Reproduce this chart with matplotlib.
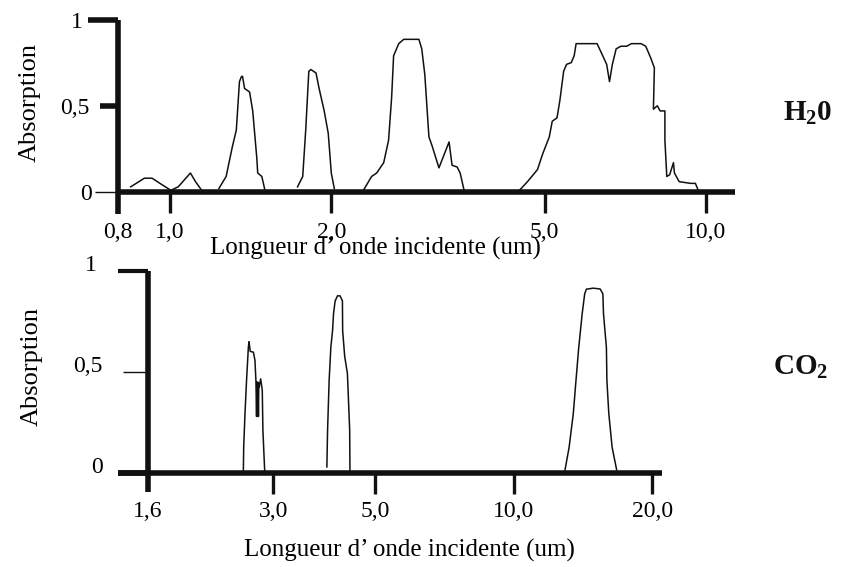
import numpy as np
import matplotlib
matplotlib.use("Agg")
import matplotlib.pyplot as plt
from matplotlib.ticker import NullLocator

plt.rcParams['font.family'] = ['Liberation Serif', 'DejaVu Serif']
plt.rcParams['mathtext.fontset'] = 'custom'
plt.rcParams['mathtext.rm'] = 'Liberation Serif'
plt.rcParams['mathtext.bf'] = 'Liberation Serif:bold'

# ---------------- data (wavelength in µm, absorption 0..1) ----------------
h2o_bands_wavelength = [
    [0.845, 0.896, 0.926, 0.969, 1.004, 1.036, 1.092, 1.116, 1.146],
    [1.234, 1.273, 1.307, 1.330, 1.348, 1.360, 1.366, 1.378, 1.408, 1.427,
     1.452, 1.458, 1.484, 1.504],
    [1.730, 1.769, 1.792, 1.808, 1.816, 1.832, 1.873, 1.898, 1.940, 1.974,
     2.000, 2.026],
    [2.296, 2.378, 2.430, 2.505, 2.558, 2.592, 2.614, 2.672, 2.730, 2.914,
     2.950, 2.989, 3.042, 3.082, 3.176, 3.317, 3.360, 3.434, 3.479, 3.538],
    [4.489, 4.646, 4.850, 4.958, 5.103, 5.167, 5.274, 5.339, 5.427, 5.495,
     5.608, 5.678, 5.725, 5.796, 6.265, 6.396, 6.528, 6.608, 6.690, 6.800,
     6.941, 7.114, 7.261, 7.566, 7.722, 7.882, 8.013, 7.980, 8.114, 8.214,
     8.384, 8.384, 8.452, 8.557, 8.698, 8.734, 8.914, 9.363, 9.557, 9.676],
]
h2o_bands_absorption = [
    [0.03, 0.08, 0.08, 0.04, 0.01, 0.03, 0.11, 0.06, 0.01],
    [0.02, 0.09, 0.26, 0.36, 0.64, 0.67, 0.67, 0.60, 0.58, 0.47,
     0.20, 0.11, 0.09, 0.01],
    [0.03, 0.09, 0.36, 0.59, 0.70, 0.71, 0.69, 0.60, 0.47, 0.34,
     0.11, 0.02],
    [0.01, 0.09, 0.11, 0.17, 0.30, 0.55, 0.79, 0.86, 0.885, 0.885,
     0.83, 0.68, 0.32, 0.27, 0.14, 0.29, 0.155, 0.145, 0.11, 0.01],
    [0.01, 0.06, 0.13, 0.22, 0.32, 0.41, 0.43, 0.53, 0.70, 0.74,
     0.75, 0.79, 0.86, 0.86, 0.86, 0.80, 0.74, 0.64, 0.74, 0.83,
     0.845, 0.845, 0.86, 0.86, 0.845, 0.78, 0.72, 0.48, 0.50, 0.47,
     0.47, 0.30, 0.09, 0.10, 0.17, 0.11, 0.06, 0.05, 0.05, 0.01],
]

co2_bands_wavelength = [
    [2.580, 2.585, 2.602, 2.622, 2.646, 2.655, 2.671, 2.714, 2.735, 2.748,
     2.757, 2.762, 2.770, 2.776, 2.783, 2.788, 2.793, 2.814, 2.837, 2.846,
     2.860, 2.873],
    [3.921, 3.935, 3.966, 4.000, 4.034, 4.054, 4.087, 4.136, 4.189, 4.239,
     4.241, 4.244, 4.288, 4.346, 4.367, 4.396, 4.402],
    [12.93, 13.20, 13.48, 13.66, 13.85, 14.09, 14.27, 14.39, 14.89, 15.42,
     15.63, 15.68, 15.91, 15.95, 16.10, 16.37, 16.75],
]
co2_bands_absorption = [
    [0.0, 0.13, 0.296, 0.458, 0.622, 0.65, 0.602, 0.598, 0.557, 0.458,
     0.28, 0.45, 0.28, 0.45, 0.28, 0.44, 0.425, 0.466, 0.409, 0.212,
     0.10, 0.0],
    [0.03, 0.212, 0.458, 0.622, 0.704, 0.788, 0.852, 0.877, 0.877, 0.852,
     0.788, 0.704, 0.576, 0.493, 0.377, 0.212, 0.0],
    [0.015, 0.128, 0.296, 0.458, 0.621, 0.788, 0.887, 0.91, 0.915, 0.911,
     0.887, 0.788, 0.621, 0.458, 0.296, 0.128, 0.015],
]

h2o_xticks = [0.8, 1.0, 2.0, 5.0, 10.0]
h2o_xticklabels = ['0,8', '1,0', '2,0', '5,0', '10,0']
co2_xticks = [1.6, 3.0, 5.0, 10.0, 20.0]
co2_xticklabels = ['1,6', '3,0', '5,0', '10,0', '20,0']
yticks = [0, 0.5, 1]
yticklabels = ['0', '0,5', '1']
xlabel_text = 'Longueur d\u2019 onde incidente (um)'
ylabel_text = 'Absorption'

# ---------------- figure ----------------
W, H = 843, 567
fig = plt.figure(figsize=(W / 100, H / 100), dpi=100)


def px_rect(left, right, top, bottom):
    return [left / W, 1 - bottom / H, (right - left) / W, (bottom - top) / H]


ink = '#111111'
SPINE_W = 4.0
BASE_LEN = 3.5

ax1 = fig.add_axes(px_rect(118, 735, 19.5, 192))
ax2 = fig.add_axes(px_rect(118, 662, 271, 473))

for ax in (ax1, ax2):
    ax.set_xscale('log')
    ax.set_ylim(0, 1)
    ax.spines['top'].set_visible(False)
    ax.spines['right'].set_visible(False)
    for s in ('left', 'bottom'):
        ax.spines[s].set_linewidth(SPINE_W)
        ax.spines[s].set_color(ink)
        ax.spines[s].set_capstyle('butt')
    ax.patch.set_visible(False)

ax1.set_xlim(0.8, 11.33)
ax2.set_xlim(1.377, 21.02)
ax2.spines['left'].set_position(('data', 1.6))

for xs, ys in zip(h2o_bands_wavelength, h2o_bands_absorption):
    ax1.plot(xs, ys, color=ink, lw=1.1)
for xs, ys in zip(co2_bands_wavelength, co2_bands_absorption):
    ax2.plot(xs, ys, color=ink, lw=1.1)

for ax, ticks, labels, pad in ((ax1, h2o_xticks, h2o_xticklabels, 6.5),
                               (ax2, co2_xticks, co2_xticklabels, 5.0)):
    ax.set_xticks(ticks)
    ax.set_xticklabels(labels, fontsize=17)
    ax.xaxis.set_minor_locator(NullLocator())
    ax.set_yticks(yticks)
    ax.set_yticklabels(yticklabels, fontsize=17)
    ax.tick_params(axis='x', direction='out', length=15, width=2.4,
                   color=ink, pad=pad)
    ax.tick_params(axis='y', direction='out', color=ink, length=BASE_LEN)

for lab in ax2.get_yticklabels():
    lab.set_va('baseline')

# per-tick styling of the y axes: (length pt, width pt, label offset pt)
top_y = [(16.5, 1.0, 18.7), (13.0, 4.0, 20.2), (21.6, 4.0, 25.2)]
bot_y = [(21.6, SPINE_W, 32.4), (18.0, 1.0, 32.4), (21.6, 3.0, 36.7)]
for ax, spec in ((ax1, top_y), (ax2, bot_y)):
    for tick, (ln, wd, off) in zip(ax.yaxis.get_major_ticks(), spec):
        tick.set_pad(off - BASE_LEN)
        tick.tick1line.set_markersize(ln)
        tick.tick1line.set_markeredgewidth(wd)

# first x tick continues the vertical axis downwards
for ax, ln in ((ax1, 16), (ax2, 14)):
    t0 = ax.xaxis.get_major_ticks()[0]
    t0.tick1line.set_markersize(ln)
    t0.tick1line.set_markeredgewidth(SPINE_W)

# axis labels
ax1.set_xlabel(xlabel_text, fontsize=18)
ax1.xaxis.label.set_va('center')
ax1.xaxis.set_label_coords((375 - 118) / 617, (192 - 248) / 172.5)
ax2.set_xlabel(xlabel_text, fontsize=18)
ax2.xaxis.label.set_va('center')
ax2.xaxis.set_label_coords((409 - 118) / 544, (473 - 550) / 202)

for ax, cx, cy, l, b, w, h in ((ax1, 30, 102, 118, 192, 617, 172.5),
                               (ax2, 32, 366, 118, 473, 544, 202)):
    ax.set_ylabel(ylabel_text, fontsize=19)
    ax.yaxis.label.set_va('center')
    ax.yaxis.label.set_ha('center')
    ax.yaxis.label.set_rotation_mode('anchor')
    ax.yaxis.set_label_coords((cx - l) / w, (b - cy) / h)

fig.text(808 / W, 1 - 113 / H, r'$\mathbf{H_{2}0}$', fontsize=21,
         ha='center', va='center', color=ink)
fig.text(801 / W, 1 - 367 / H, r'$\mathbf{CO_{2}}$', fontsize=21,
         ha='center', va='center', color=ink)

fig.savefig('out.png', dpi=100)
